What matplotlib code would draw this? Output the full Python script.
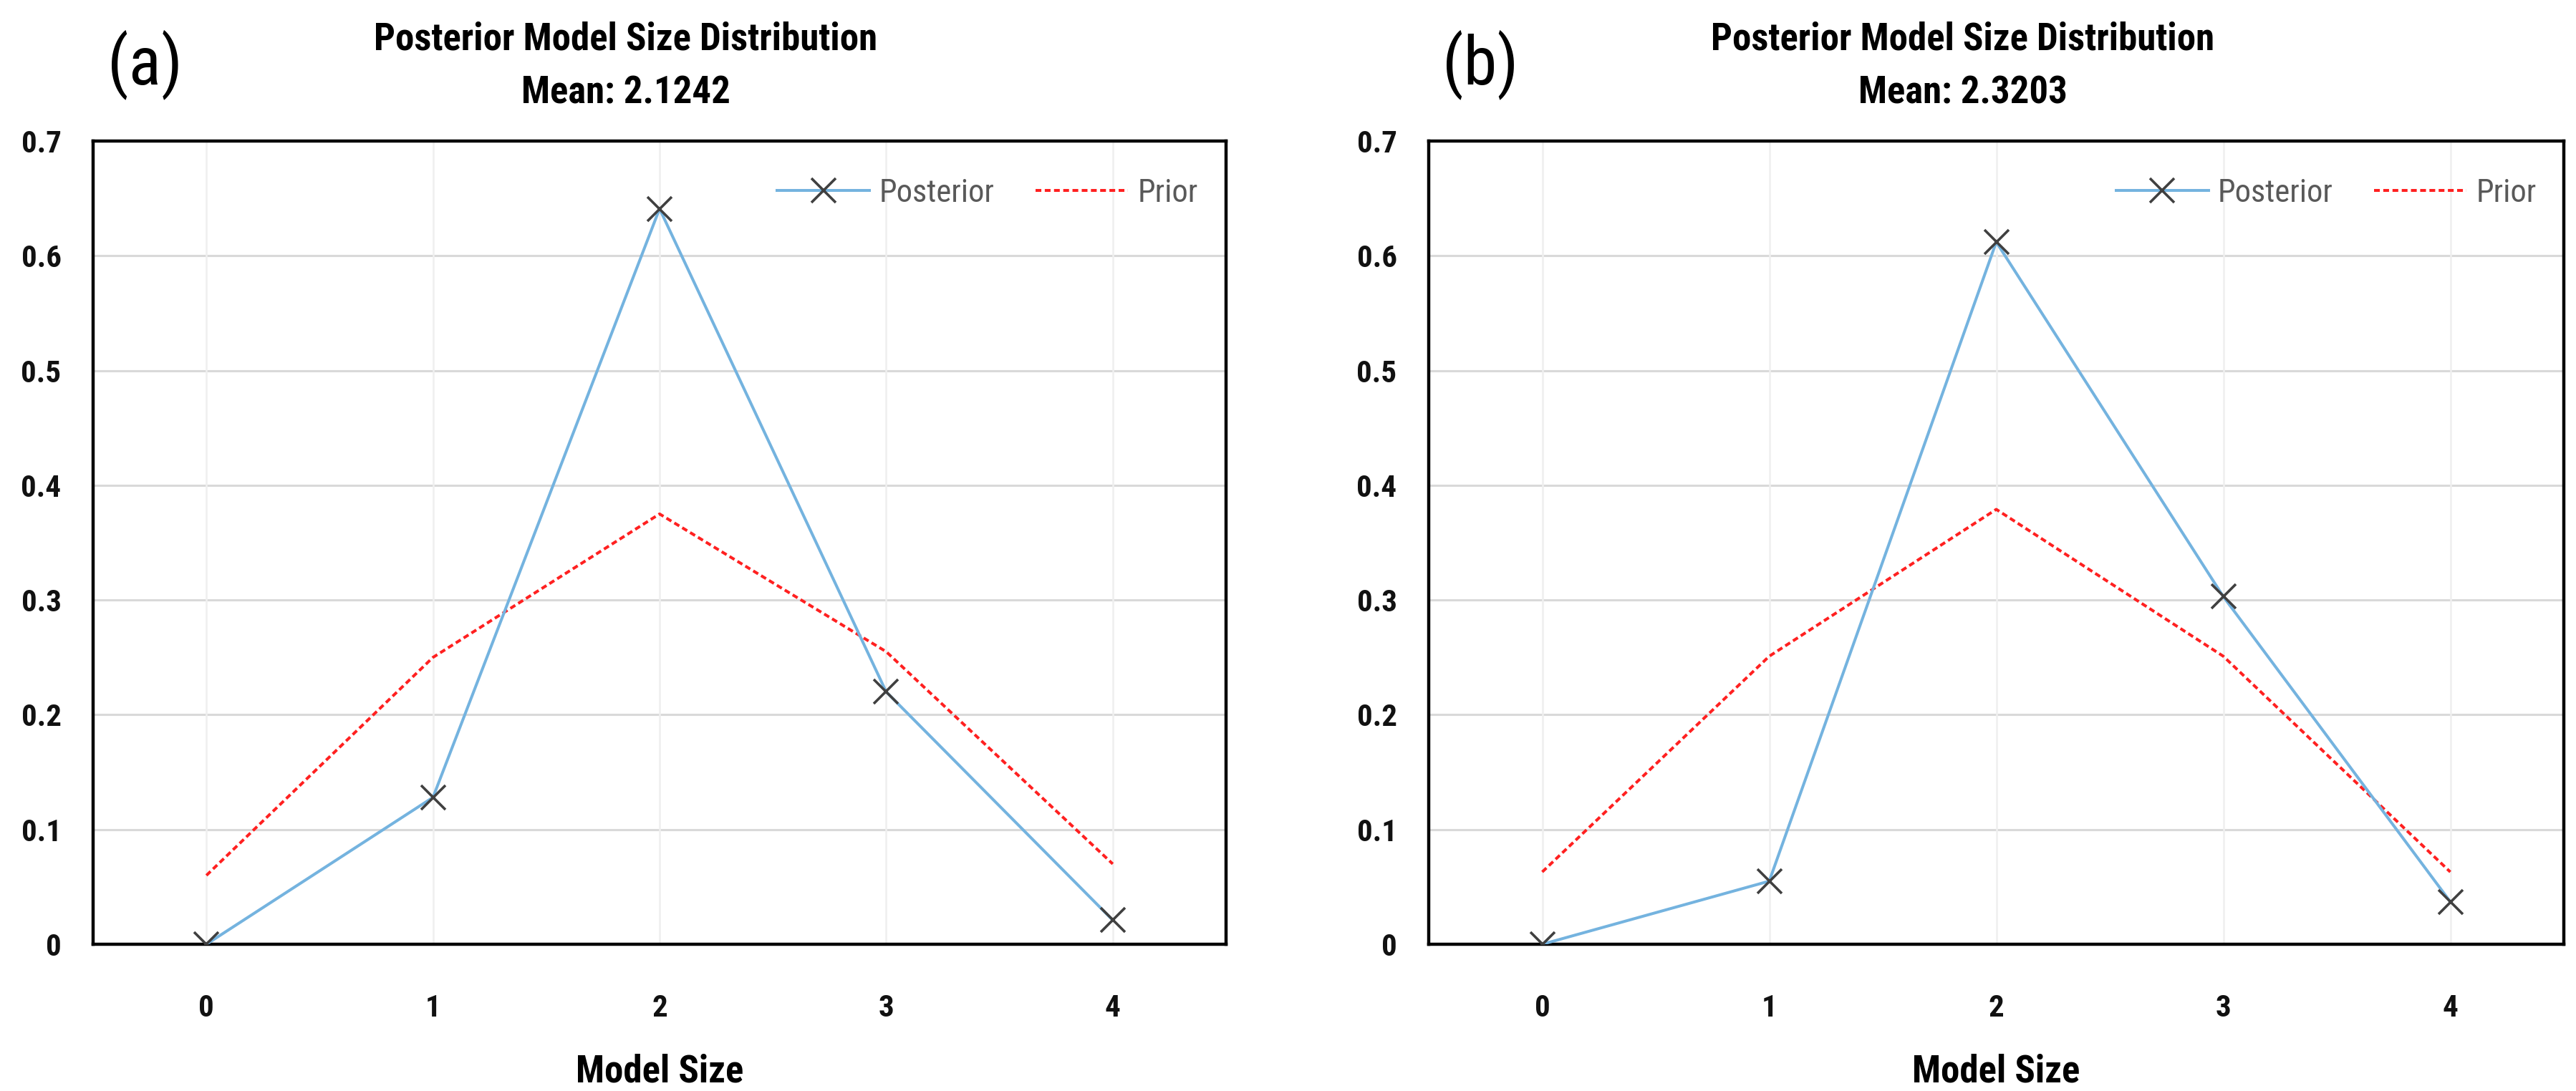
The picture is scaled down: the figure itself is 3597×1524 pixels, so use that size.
import matplotlib
matplotlib.use("Agg")
import matplotlib.pyplot as plt
from matplotlib import font_manager

# data
sizes = [0, 1, 2, 3, 4]
posterior_a = [0.0, 0.128, 0.641, 0.220, 0.021]
prior_a = [0.060, 0.250, 0.375, 0.255, 0.070]
posterior_b = [0.0, 0.055, 0.612, 0.303, 0.037]
prior_b = [0.063, 0.251, 0.379, 0.251, 0.063]
means = ["2.1242", "2.3203"]
panel_tags = ["(a)", "(b)"]
yticks = [0, 0.1, 0.2, 0.3, 0.4, 0.5, 0.6, 0.7]
ytick_labels = ["0", "0.1", "0.2", "0.3", "0.4", "0.5", "0.6", "0.7"]


def pick_font(names):
    have = {f.name for f in font_manager.fontManager.ttflist}
    for n in names:
        if n in have:
            return n
    return "DejaVu Sans"


FONT = pick_font(["Liberation Sans Narrow", "Roboto Condensed", "Open Sans Condensed", "Lato"])
plt.rcParams["font.family"] = [FONT, "DejaVu Sans"]

W, H, DPI = 3597, 1524, 200
fig = plt.figure(figsize=(W / DPI, H / DPI), dpi=DPI)


def px_axes(left, right, top, bottom):
    return [left / W, 1 - bottom / H, (right - left) / W, (bottom - top) / H]


boxes = [px_axes(130, 1712, 197, 1319), px_axes(1995, 3580, 197, 1319)]
series = [(posterior_a, prior_a), (posterior_b, prior_b)]
legend_x = [0.975, 0.976]

for i, (box, (post, prior)) in enumerate(zip(boxes, series)):
    ax = fig.add_axes(box)
    ax.plot(sizes, post, color="#74b3df", lw=1.45, marker="x", ms=12, mew=1.3,
            mec="#404040", label="Posterior", zorder=3)
    ax.plot(sizes, prior, color="#ff2020", lw=1.45, ls=(0, (2.0, 1.2)),
            label="Prior", zorder=2)
    ax.set_xlim(-0.5, 4.5)
    ax.set_ylim(0, 0.7)
    ax.set_xticks(sizes)
    ax.set_yticks(yticks)
    ax.set_yticklabels(ytick_labels)
    ax.tick_params(length=0, labelsize=15.5, labelcolor="#111111")
    ax.tick_params(axis="y", pad=16)
    ax.tick_params(axis="x", pad=25)
    for lab in ax.get_xticklabels() + ax.get_yticklabels():
        lab.set_fontweight("bold")
    for y in yticks[1:-1]:
        ax.axhline(y, color="#d9d9d9", lw=1.1, zorder=0)
    for x in sizes:
        ax.axvline(x, color="#efefef", lw=0.9, zorder=0)
    for sp in ax.spines.values():
        sp.set_color("black")
        sp.set_linewidth(1.6)
    ax.set_xlabel("Model Size", fontsize=19, fontweight="bold", labelpad=15)

    leg = ax.legend(loc="center right", bbox_to_anchor=(legend_x[i], 0.935), ncol=2,
                    frameon=False, fontsize=16, handlelength=2.9, handletextpad=0.3,
                    columnspacing=1.3, borderpad=0, borderaxespad=0)
    for t in leg.get_texts():
        t.set_color("#595959")

    # titles are centred on the whole chart area (including tick labels), like Excel
    cx = (box[0] + box[0] + box[2]) / 2 - 47 / W
    fig.text(cx, 1 - 55 / H, "Posterior Model Size Distribution", ha="center", va="center",
             fontsize=19, fontweight="bold")
    fig.text(cx, 1 - 130 / H, "Mean: " + means[i], ha="center", va="center",
             fontsize=19, fontweight="bold")
    fig.text(box[0] + 72 / W, 1 - 90 / H, panel_tags[i], ha="center", va="center", fontsize=34)

fig.savefig("out.png", dpi=DPI)
